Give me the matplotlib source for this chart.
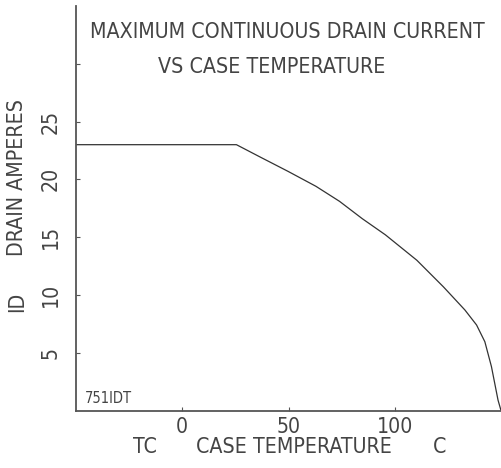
import matplotlib
matplotlib.use("Agg")
import matplotlib.pyplot as plt

# curve
temp_c = [-50, 25.5, 37.0, 49.7, 62.9, 74.0, 84.7, 95.6, 110.4, 122.9, 133.0, 138.5, 142.4, 145.5, 148.6, 150]
drain_a = [23.0, 23.0, 21.9, 20.7, 19.4, 18.1, 16.6, 15.2, 13.0, 10.7, 8.7, 7.4, 5.95, 3.8, 0.9, 0.0]

x_ticks = [0, 50, 100]
y_ticks = [5, 10, 15, 20, 25, 30]
y_labels = ["5", "10", "15", "20", "25", ""]

plt.rcParams["font.family"] = "DejaVu Sans"
plt.rcParams["font.stretch"] = "condensed"
plt.rcParams["font.weight"] = "light"

W, H = 501, 468
fig = plt.figure(figsize=(W / 100, H / 100), dpi=100)
ax = fig.add_axes([76 / W, (H - 410.5) / H, (W - 76) / W, (410.5 - 6) / H])

ink = "#444444"
fs = 15.3
ax.plot(temp_c, drain_a, color="#333333", lw=0.9)
ax.set_xlim(-50, 150)
ax.set_ylim(0, 35)

for s in ("top", "right"):
    ax.spines[s].set_visible(False)
for s in ("left", "bottom"):
    ax.spines[s].set_color("#555555")
    ax.spines[s].set_linewidth(1.3)

ax.set_xticks(x_ticks)
ax.set_xticklabels([str(v) for v in x_ticks])
ax.set_yticks(y_ticks)
ax.set_yticklabels(y_labels, rotation=90, va="center")
ax.tick_params(direction="in", length=3, width=0.8, color="#555555",
               labelcolor=ink, labelsize=fs)
ax.tick_params(axis="x", pad=5)
ax.tick_params(axis="y", pad=11)

# title lines
fig.text(287 / W, 1 - 32 / H, "MAXIMUM CONTINUOUS DRAIN CURRENT", ha="center", va="center",
         fontsize=fs, color=ink)
fig.text(272 / W, 1 - 67 / H, "VS CASE TEMPERATURE", ha="center", va="center",
         fontsize=fs, color=ink)

# x label parts
fig.text(145 / W, 1 - 447 / H, "TC", ha="center", va="center", fontsize=fs, color=ink)
fig.text(294 / W, 1 - 447 / H, "CASE TEMPERATURE", ha="center", va="center", fontsize=fs, color=ink)
fig.text(440 / W, 1 - 447 / H, "C", ha="center", va="center", fontsize=fs, color=ink)

# y label parts
fig.text(17 / W, 1 - 178 / H, "DRAIN AMPERES", ha="center", va="center", rotation=90,
         fontsize=fs, color=ink)
fig.text(17 / W, 1 - 302 / H, "ID", ha="center", va="center", rotation=90,
         fontsize=fs, color=ink)

ax.text(0.02, 0.012, "751IDT", transform=ax.transAxes, ha="left", va="bottom",
        fontsize=10.5, color=ink)

fig.savefig("out.png", dpi=100)
